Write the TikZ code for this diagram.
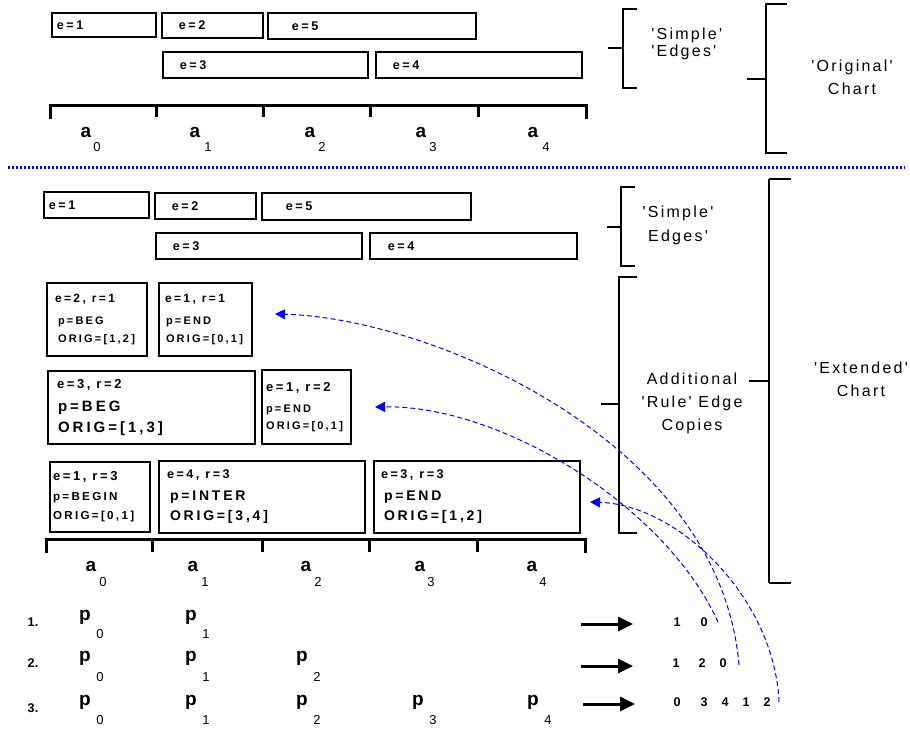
\documentclass[tikz,border=0pt]{standalone}
\usepackage{fontspec}
\setmainfont{Liberation Sans}
\newfontfamily\wide[LetterSpace=20]{Liberation Sans}
\newfontfamily\notefont[LetterSpace=14]{Liberation Sans}
\usetikzlibrary{arrows.meta,positioning}

\begin{document}
\begin{tikzpicture}[
  x=0.5pt, y=-0.5pt,
  every node/.style={inner sep=0pt},
  ebox/.style={draw, line width=0.9pt, anchor=north west, align=left, font=\wide\bfseries\fontsize{6.3}{7}\selectfont},
  rbox/.style 2 args={draw, line width=1pt, anchor=north west, align=left, font=\wide\bfseries\fontsize{#1}{#2}\selectfont},
  axis/.style={line width=1.5pt},
  brack/.style={line width=0.75pt},
  note/.style={font=\notefont\fontsize{8}{11.5}\selectfont, align=center},
  albl/.style={font=\bfseries\fontsize{9.5}{10}\selectfont},
  plbl/.style={font=\bfseries\fontsize{9.5}{10}\selectfont},
  sublbl/.style={font=\fontsize{6.5}{7}\selectfont},
  num/.style={font=\bfseries\fontsize{6.3}{7}\selectfont},
  back/.style={blue, line width=0.5pt, dash pattern=on 2.5pt off 1.5pt, -{Triangle[length=5pt,width=5pt]}},
  maps/.style={line width=1.5pt, -{Triangle[length=7.5pt,width=7pt]}}
]
\useasboundingbox (0,0) rectangle (910,731);

% --- ORIGINAL CHART ---
\node[ebox, text width=52pt, minimum height=12pt] (oe1) at (51,12) {\hspace*{2.5pt}e=1};
\node[ebox, text width=50.5pt, minimum height=12.5pt] (oe2) at (161,12) {\hspace*{8.5pt}e=2};
\node[ebox, text width=104pt, minimum height=13pt] (oe5) at (267,12) {\hspace*{12pt}e=5};
\node[ebox, text width=102.5pt, minimum height=13pt] (oe3) at (162,51) {\hspace*{8.5pt}e=3};
\node[ebox, text width=103pt, minimum height=13pt] (oe4) at (375,51) {\hspace*{8.5pt}e=4};

\draw[axis] (50,119) -- (50,106) -- (586,106) -- (586,119);
\foreach \x in {156,263,370,478} \draw[axis] (\x,106) -- (\x,117);
\foreach \x/\s/\i in {86/97/0,195/208/1,310/322/2,421/433/3,533/546/4} {
  \node[albl] (oa\i) at (\x,132) {a};
  \node[sublbl] (oa\i s) at (\s,147) {\i};
}

% brackets on the right
\draw[brack] (637,9) -- (623,9) -- (623,88) -- (637,88);
\draw[brack] (608,48) -- (623,48);
\node[note, align=left, anchor=west, font=\notefont\fontsize{8}{8.5}\selectfont] (osimple) at (651,43.5) {'Simple'\\'Edges'};
\draw[brack] (787,4) -- (766,4) -- (766,153) -- (787,153);
\draw[brack] (747,79) -- (766,79);
\node[note] (orig) at (852,77) {'Original'\\Chart};

% --- SEPARATOR ---
\draw[blue!85!black, line width=1.5pt, dash pattern=on 1.2pt off 0.8pt] (8,168) -- (905,168);

% --- EXTENDED CHART ---
\node[ebox, text width=52.5pt, minimum height=13pt] (le1) at (43,191) {\hspace*{2.5pt}e=1};
\node[ebox, text width=50.5pt, minimum height=13pt] (le2) at (154,192) {\hspace*{8.5pt}e=2};
\node[ebox, text width=104.5pt, minimum height=13.5pt] (le5) at (261,192) {\hspace*{12pt}e=5};
\node[ebox, text width=103pt, minimum height=13pt] (le3) at (155,232) {\hspace*{8.5pt}e=3};
\node[ebox, text width=103.5pt, minimum height=13pt] (le4) at (369,232) {\hspace*{9pt}e=4};

% rule edge copies
\node[rbox={5.5}{9}, text width=50pt, minimum height=36.5pt] (r21) at (46,282)
  {\hspace*{4pt}{\fontsize{6}{9}\selectfont e=2,\hspace{3pt}r=1}\\[2pt]
   \hspace*{5.5pt}p=BEG\\\hspace*{5.5pt}ORIG=[1,2]};
\node[rbox={5.5}{9}, text width=46.5pt, minimum height=36.5pt] (r11) at (158,282)
  {\hspace*{3pt}{\fontsize{6}{9}\selectfont e=1,\hspace{3pt}r=1}\\[2pt]
   \hspace*{3.5pt}p=END\\\hspace*{3.5pt}ORIG=[0,1]};
\node[rbox={7.5}{10.5}, text width=103.5pt, minimum height=36.5pt] (r32) at (47,370)
  {\hspace*{4.5pt}{\fontsize{6.5}{10}\selectfont e=3,\hspace{3pt}r=2}\\[1pt]
   \hspace*{5pt}p=BEG\\\hspace*{5pt}ORIG=[1,3]};
\node[rbox={5.5}{8.5}, text width=44.5pt, minimum height=37pt] (r12) at (261,369)
  {\hspace*{2pt}{\fontsize{6.5}{8.5}\selectfont e=1,\hspace{3pt}r=2}\\[2pt]
   \hspace*{2pt}p=END\\\hspace*{2pt}ORIG=[0,1]};
\node[rbox={5.8}{9.5}, text width=50pt, minimum height=35pt] (r13) at (49,461)
  {\hspace*{1.5pt}{\fontsize{6.5}{9.5}\selectfont e=1,\hspace{3pt}r=3}\\[0.5pt]
   \hspace*{1.5pt}p=BEGIN\\\hspace*{1.5pt}ORIG=[0,1]};
\node[rbox={7}{10}, text width=103pt, minimum height=36pt] (r43) at (158,460)
  {\hspace*{4pt}{\fontsize{6.3}{10}\selectfont e=4,\hspace{3pt}r=3}\\[1pt]
   \hspace*{5.5pt}p=INTER\\\hspace*{5.5pt}ORIG=[3,4]};
\node[rbox={7}{10}, text width=103pt, minimum height=36pt] (r33) at (373,460)
  {\hspace*{3.5pt}{\fontsize{6.3}{10}\selectfont e=3,\hspace{3pt}r=3}\\[1pt]
   \hspace*{5pt}p=END\\\hspace*{5pt}ORIG=[1,2]};

\draw[axis] (46,553) -- (46,540) -- (585,540) -- (585,553);
\foreach \x in {152,262,369,477} \draw[axis] (\x,540) -- (\x,552);
\foreach \x/\s/\i in {91/103/0,193/205/1,306/318/2,420/431/3,532/543/4} {
  \node[albl] (la\i) at (\x,566) {a};
  \node[sublbl] (la\i s) at (\s,582) {\i};
}

% brackets on the right
\draw[brack] (635,187) -- (621,187) -- (621,266) -- (635,266);
\draw[brack] (607,227) -- (621,227);
\node[note, font=\notefont\fontsize{8}{12}\selectfont] (lsimple) at (678,225) {'Simple'\\Edges'};
\draw[brack] (637,277) -- (619,277) -- (619,533) -- (637,533);
\draw[brack] (601,404) -- (619,404);
\node[note] (addl) at (692,403) {Additional\\'Rule' Edge\\Copies};
\draw[brack] (769,179) -- (791,179);
\draw[brack] (769,583) -- (791,583);
\draw[brack] (769,179) -- (769,583);
\draw[brack] ([xshift=3pt]addl.north east |- 0,381) -- (769,381);
\node[note] (ext) at (861,379) {'Extended'\\Chart};

% --- ORDERINGS ---
\foreach \r/\y/\py/\sy/\n in {1/622/617/634/2,2/663/658/677/3,3/708/702/720/5} {
  \node[num] (row\r) at (33,\y) {\r.};
  \foreach \x [count=\k] in {85,191,302,418,533} {
    \ifnum\k>\n\else
      \node[plbl] (p\r\k) at (\x,\py) {p};
      \pgfmathtruncatemacro{\kk}{\k-1}
      \node[sublbl] (p\r\k s) at (\x+15,\sy) {\kk};
    \fi
  }
}
\foreach \x/\d [count=\k] in {677/1,704/0} \node[num] (n1\k) at (\x,622) {\d};
\foreach \x/\d [count=\k] in {676/1,702/2,723/0} \node[num] (n2\k) at (\x,663) {\d};
\foreach \x/\d [count=\k] in {677/0,704/3,725/4,746/1,767/2} \node[num] (n3\k) at (\x,702) {\d};

\draw[maps] ([xshift=-48pt,yshift=-1pt]n11.center) -- ([xshift=-22pt,yshift=-1pt]n11.center);
\draw[maps] ([xshift=-47.5pt,yshift=-1.5pt]n21.center) -- ([xshift=-21.5pt,yshift=-1.5pt]n21.center);
\draw[maps] ([xshift=-47pt,yshift=-1pt]n31.center) -- ([xshift=-21pt,yshift=-1pt]n31.center);

% --- BACK REFERENCES ---
\draw[back] ([xshift=7pt]n12.center) .. controls (665,505) and (500,405) .. ([xshift=11.5pt]r12.east);
\draw[back] ([xshift=8pt,yshift=-1pt]n23.center) .. controls (720,440) and (430,318) .. ([xshift=11pt,yshift=2.75pt]r11.east);
\draw[back] ([xshift=6pt]n35.center) .. controls (775,600) and (680,505) .. ([xshift=4.5pt,yshift=-2.5pt]r33.east);

\end{tikzpicture}
\end{document}
